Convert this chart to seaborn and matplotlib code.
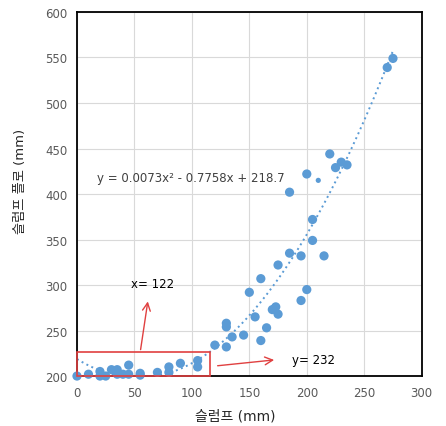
import numpy as np
import pandas as pd
import matplotlib
matplotlib.use("Agg")
import matplotlib.pyplot as plt
import seaborn as sns
from matplotlib.patches import Rectangle

slump = [0, 10, 20, 20, 25, 30, 35, 35, 40, 45, 45, 55, 55, 70, 80, 80, 90, 105, 105,
         120, 130, 130, 130, 135, 145, 150, 155, 160, 160, 165, 170, 173, 175, 175,
         185, 195, 195, 200, 205, 205, 215, 185, 200, 220, 225, 230, 235, 270, 275]
flow = [200, 202, 205, 200, 200, 207, 207, 202, 202, 202, 212, 203, 201, 204, 210, 204, 214, 217, 210,
        234, 258, 254, 232, 243, 245, 292, 265, 307, 239, 253, 273, 276, 268, 322,
        335, 332, 283, 295, 372, 349, 332, 402, 422, 444, 429, 435, 432, 539, 549]
small_x = [210]
small_y = [415]

coef = [0.0073, -0.7758, 218.7]
eq_text = "y = 0.0073x\u00b2 - 0.7758x + 218.7"
x_ticks = [0, 50, 100, 150, 200, 250, 300]
y_ticks = [200, 250, 300, 350, 400, 450, 500, 550, 600]

sns.set_theme(style="white")
plt.rcParams['font.family'] = ['DejaVu Sans', 'Noto Sans CJK KR']

fig = plt.figure(figsize=(4.46, 4.27), dpi=100)
ax = fig.add_axes([0.1726, 0.117, 0.9455 - 0.1726, 0.9696 - 0.117])

blue = '#5b9bd5'
df = pd.DataFrame({'x': slump, 'y': flow})
sns.scatterplot(data=df, x='x', y='y', ax=ax, color=blue, s=44, edgecolor='none',
                zorder=3, clip_on=False)
ax.scatter(small_x, small_y, color=blue, s=14, edgecolors='none', zorder=3)

xs = np.linspace(0, 275, 200)
ax.plot(xs, np.polyval(coef, xs), linestyle=(0, (1, 1.8)), color=blue, lw=1.4, zorder=2)

ax.set_xlim(0, 300)
ax.set_ylim(200, 600)
ax.set_xticks(x_ticks)
ax.set_yticks(y_ticks)
ax.grid(True, color='#d9d9d9', lw=0.8)
ax.set_axisbelow(True)
for sp in ax.spines.values():
    sp.set_color('black')
    sp.set_linewidth(1.3)
ax.tick_params(length=0, labelsize=8.5, labelcolor='#595959', pad=7)
ax.set_xlabel("슬럼프 (mm)", fontsize=10, color='#262626')
ax.set_ylabel("슬럼프 플로 (mm)", fontsize=9.5, color='#262626')
ax.xaxis.set_label_coords(0.46, -0.09)
ax.yaxis.set_label_coords(-0.145, 0.538)

ax.text(99, 418, eq_text, fontsize=8.5, color='#404040', ha='center', va='center')

red = '#e04040'
ax.add_patch(Rectangle((0, 200), 116, 26, fill=False, edgecolor=red, lw=1.2, zorder=4, clip_on=False))
ax.annotate("", xy=(62, 285), xytext=(55, 226),
            arrowprops=dict(arrowstyle='->', color=red, lw=1.0, mutation_scale=14))
ax.annotate("", xy=(174, 218), xytext=(120, 211),
            arrowprops=dict(arrowstyle='->', color=red, lw=1.0, mutation_scale=14))
ax.text(47, 302, "x= 122", fontsize=8.5, color='black', ha='left', va='center')
ax.text(187, 218, "y= 232", fontsize=8.5, color='black', ha='left', va='center')

fig.savefig("out.png", dpi=100)
